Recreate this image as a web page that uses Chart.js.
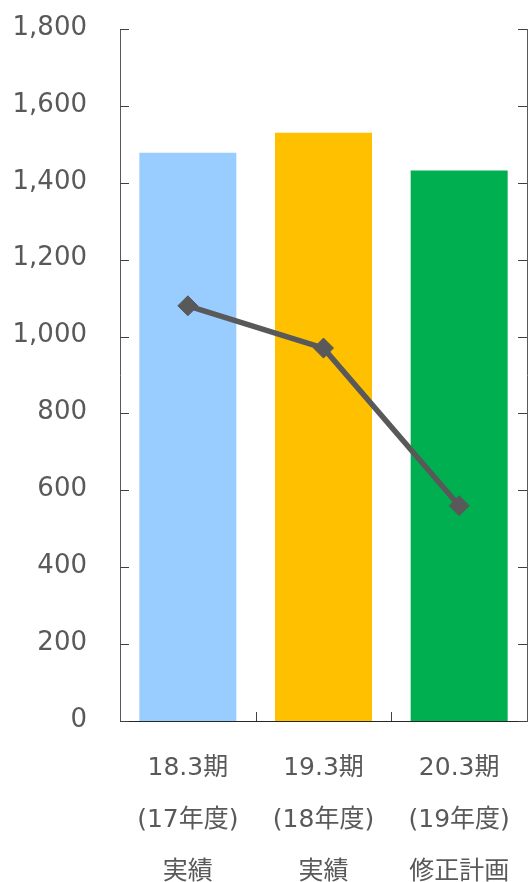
<!DOCTYPE html>
<html>
<head>
<meta charset="utf-8">
<script src="https://cdn.jsdelivr.net/npm/chart.js@4"></script>
<style>
html,body{margin:0;padding:0;background:#fff;}
canvas{display:block;}
</style>
</head>
<body>
<canvas id="c" width="528" height="882"></canvas>
<script>
const categories = [
  ["18.3期", "(17年度)", "実績"],
  ["19.3期", "(18年度)", "実績"],
  ["20.3期", "(19年度)", "修正計画"]
];
const barValues = [1478, 1530, 1432];
const lineValues = [1080, 970, 560];
const barColors = ["#99CCFF", "#FFC000", "#00B050"];
const yMin = 0, yMax = 1800, yStep = 200;

const FONT = '"DejaVu Sans", "Noto Sans CJK JP", sans-serif';
const TXT = '#595959';

const tickPlugin = {
  id: 'inwardTicks',
  afterDraw(chart) {
    const ctx = chart.ctx;
    const y = chart.scales.y, x = chart.scales.x;
    const area = chart.chartArea;
    ctx.save();
    ctx.lineWidth = 1;
    ctx.strokeStyle = '#404040';
    for (let v = yMin; v <= yMax; v += yStep) {
      const py = Math.round(y.getPixelForValue(v)) + 0.5;
      ctx.beginPath();
      ctx.moveTo(area.left, py); ctx.lineTo(area.left + 9, py);
      ctx.moveTo(area.right, py); ctx.lineTo(area.right - 9, py);
      ctx.stroke();
    }
    for (let i = 1; i < categories.length; i++) {
      const px = Math.round((x.getPixelForValue(i - 1) + x.getPixelForValue(i)) / 2) + 0.5;
      ctx.beginPath();
      ctx.moveTo(px, area.bottom); ctx.lineTo(px, area.bottom - 9);
      ctx.stroke();
    }
    ctx.restore();
  }
};

new Chart(document.getElementById('c'), {
  data: {
    labels: categories,
    datasets: [
      {
        type: 'line',
        data: lineValues,
        borderColor: '#595959',
        backgroundColor: '#595959',
        borderWidth: 5.5,
        pointStyle: 'rectRot',
        pointRadius: 10,
        pointBorderWidth: 1,
        fill: false,
        tension: 0,
        order: 0,
        yAxisID: 'y'
      },
      {
        type: 'bar',
        data: barValues,
        backgroundColor: barColors,
        barPercentage: 0.715,
        categoryPercentage: 1,
        order: 1,
        yAxisID: 'y'
      }
    ]
  },
  options: {
    responsive: false,
    animation: false,
    events: [],
    layout: { autoPadding: false, padding: { top: 29, right: 0, left: 0, bottom: 0 } },
    plugins: { legend: { display: false }, tooltip: { enabled: false } },
    scales: {
      x: {
        offset: true,
        grid: { display: false, drawTicks: false },
        border: { display: true, color: '#262626', width: 1 },
        ticks: {
          color: TXT,
          font: { family: FONT, size: 25, lineHeight: 2.07 },
          padding: 22,
          maxRotation: 0,
          autoSkip: false
        },
        afterFit(s) { s.height = 161; s.paddingLeft = 0; s.paddingRight = 0; }
      },
      y: {
        position: 'left',
        min: yMin, max: yMax,
        grid: { display: false, drawTicks: false },
        border: { display: true, color: '#595959', width: 1 },
        ticks: {
          stepSize: yStep,
          color: TXT,
          font: { family: FONT, size: 26 },
          padding: 33,
          labelOffset: -1,
          callback: v => v.toLocaleString('en-US')
        },
        afterFit(s) { s.width = 120; s.paddingTop = 0; s.paddingBottom = 0; }
      },
      y2: {
        position: 'right',
        min: yMin, max: yMax,
        grid: { display: false, drawTicks: false },
        border: { display: true, color: '#595959', width: 1 },
        ticks: { display: false, stepSize: yStep },
        afterFit(s) { s.width = 1; s.paddingTop = 0; s.paddingBottom = 0; }
      }
    }
  },
  plugins: [tickPlugin]
});
</script>
</body>
</html>
